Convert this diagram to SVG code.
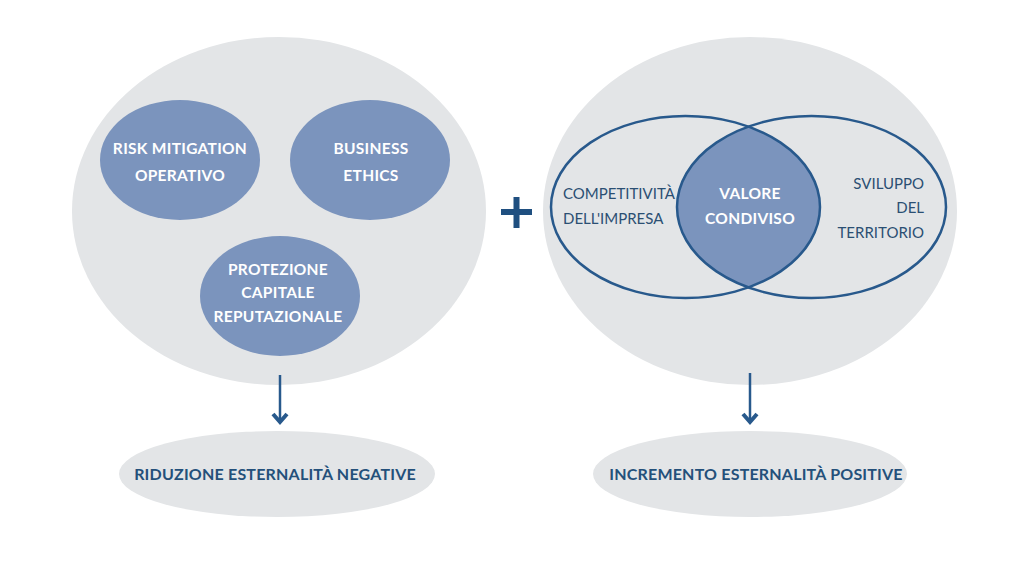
<svg xmlns="http://www.w3.org/2000/svg" width="1024" height="562" viewBox="0 0 1024 562">
<defs>
<style>
.bg{fill:#e3e5e7}
.node{fill:#7b94bd}
.venn{fill:none;stroke:#28598c;stroke-width:2.5}
.wt{font-family:Lato,"Liberation Sans",sans-serif;font-weight:bold;font-size:15.5px;fill:#ffffff;text-anchor:middle;letter-spacing:0.3px}
.dt{font-family:Lato,"Liberation Sans",sans-serif;font-size:15px;fill:#2b4f73;letter-spacing:0px}
.bt{font-family:Lato,"Liberation Sans",sans-serif;font-weight:bold;font-size:16px;fill:#24507a;text-anchor:middle;letter-spacing:0.2px}
.arr{fill:none;stroke:#28598c;stroke-width:2.5}
.head{fill:none;stroke:#28598c;stroke-width:4;stroke-linejoin:miter}
</style>
<clipPath id="clipL"><ellipse cx="685.5" cy="207" rx="134.5" ry="91"/></clipPath>
</defs>
<rect width="1024" height="562" fill="#ffffff"/>
<g id="left-group">
<ellipse class="bg" cx="279" cy="211" rx="207" ry="174"/>
</g>
<g id="risk">
<ellipse class="node" cx="180" cy="160" rx="80" ry="60"/>
<text class="wt" x="180" y="154">RISK MITIGATION</text>
<text class="wt" x="180" y="181">OPERATIVO</text>
</g>
<g id="business">
<ellipse class="node" cx="370" cy="160" rx="80" ry="60"/>
<text class="wt" x="371" y="154">BUSINESS</text>
<text class="wt" x="371" y="181">ETHICS</text>
</g>
<g id="protezione">
<ellipse class="node" cx="280" cy="296" rx="80" ry="60"/>
<text class="wt" x="278" y="275">PROTEZIONE</text>
<text class="wt" x="278" y="298">CAPITALE</text>
<text class="wt" x="278" y="322">REPUTAZIONALE</text>
</g>
<g id="plus">
<rect x="501" y="209" width="31" height="6" fill="#1f4f80"/>
<rect x="513.5" y="197" width="6" height="31" fill="#1f4f80"/>
</g>
<g id="right-group">
<ellipse class="bg" cx="750" cy="211" rx="207" ry="174"/>
</g>
<g id="venn">
<ellipse cx="811.5" cy="207" rx="134.5" ry="91" class="node" clip-path="url(#clipL)"/>
<ellipse class="venn" cx="685.5" cy="207" rx="134.5" ry="91"/>
<ellipse class="venn" cx="811.5" cy="207" rx="134.5" ry="91"/>
</g>
<g id="competitivita">
<text class="dt" x="563" y="199">COMPETITIVITÀ</text>
<text class="dt" x="563" y="224">DELL'IMPRESA</text>
</g>
<g id="valore">
<text class="wt" x="750" y="199">VALORE</text>
<text class="wt" x="750" y="224">CONDIVISO</text>
</g>
<g id="sviluppo">
<text class="dt" x="924" y="189" text-anchor="end">SVILUPPO</text>
<text class="dt" x="924" y="213" text-anchor="end">DEL</text>
<text class="dt" x="924" y="238" text-anchor="end">TERRITORIO</text>
</g>
<g id="connectors">
<path class="arr" d="M280 375 V421"/>
<path class="head" d="M273 414 L280 422 L287 414"/>
<path class="arr" d="M750 373 V421"/>
<path class="head" d="M743 414 L750 422 L757 414"/>
</g>
<g id="riduzione">
<ellipse class="bg" cx="277" cy="474" rx="158" ry="43"/>
<text class="bt" x="275" y="480">RIDUZIONE ESTERNALITÀ NEGATIVE</text>
</g>
<g id="incremento">
<ellipse class="bg" cx="750" cy="474" rx="157" ry="43"/>
<text class="bt" x="756" y="480">INCREMENTO ESTERNALITÀ POSITIVE</text>
</g>
</svg>
